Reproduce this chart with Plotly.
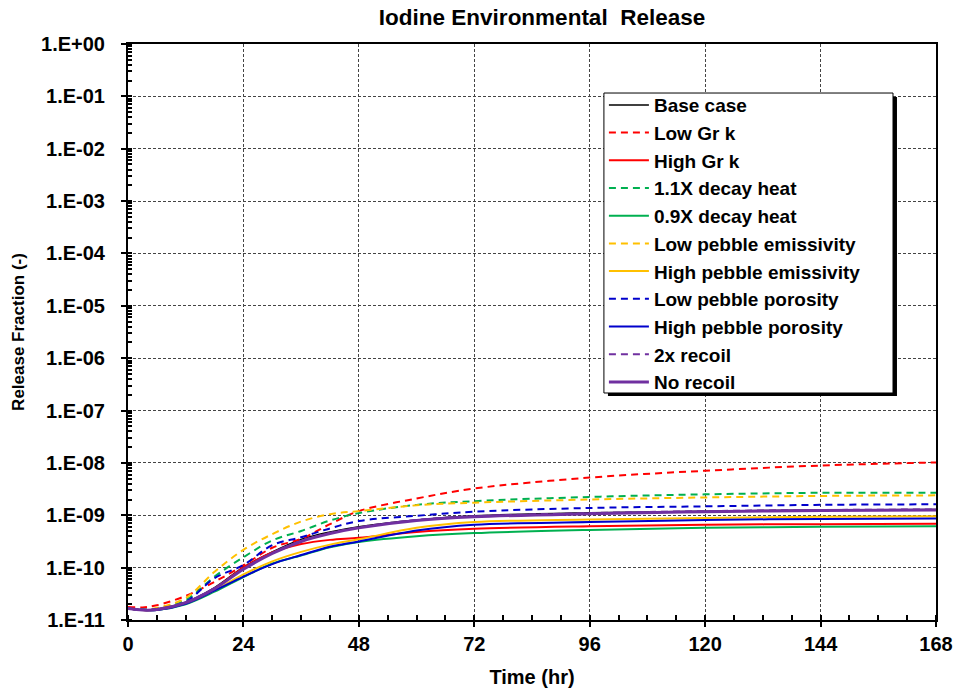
import plotly.graph_objects as go

# time (hr) and release fraction
hours = [0, 3, 6, 12, 18, 24, 30, 36, 42, 48, 60, 72, 96, 120, 144, 168]

base_case = [1.66e-11, 1.55e-11, 1.62e-11, 2.19e-11, 4.17e-11, 1.02e-10, 2.00e-10, 3.47e-10,
             4.79e-10, 6.03e-10, 8.13e-10, 9.77e-10, 1.12e-09, 1.20e-09, 1.26e-09, 1.29e-09]
low_gr_k = [1.78e-11, 1.74e-11, 1.91e-11, 2.88e-11, 5.37e-11, 1.10e-10, 2.40e-10, 3.55e-10,
            6.76e-10, 1.20e-09, 2.09e-09, 3.24e-09, 5.25e-09, 7.08e-09, 8.91e-09, 1.02e-08]
high_gr_k = [1.66e-11, 1.55e-11, 1.58e-11, 2.14e-11, 3.98e-11, 1.00e-10, 1.95e-10, 2.82e-10,
             3.39e-10, 3.72e-10, 4.79e-10, 5.50e-10, 6.17e-10, 6.61e-10, 6.76e-10, 6.92e-10]
decay_heat_11 = [1.66e-11, 1.58e-11, 1.66e-11, 2.40e-11, 6.76e-11, 1.58e-10, 3.31e-10, 5.01e-10,
                 7.94e-10, 1.10e-09, 1.58e-09, 1.86e-09, 2.24e-09, 2.51e-09, 2.69e-09, 2.69e-09]
decay_heat_09 = [1.66e-11, 1.55e-11, 1.55e-11, 2.00e-11, 3.47e-11, 6.61e-11, 1.20e-10, 1.70e-10,
                 2.45e-10, 3.09e-10, 3.98e-10, 4.57e-10, 5.25e-10, 5.75e-10, 6.03e-10, 6.17e-10]
low_emissivity = [1.66e-11, 1.58e-11, 1.70e-11, 2.63e-11, 8.32e-11, 2.19e-10, 4.37e-10, 7.59e-10,
                  1.05e-09, 1.20e-09, 1.55e-09, 1.74e-09, 2.00e-09, 2.19e-09, 2.34e-09, 2.40e-09]
high_emissivity = [1.66e-11, 1.55e-11, 1.58e-11, 2.09e-11, 3.72e-11, 7.41e-11, 1.32e-10, 2.00e-10,
                   2.75e-10, 3.47e-10, 5.75e-10, 7.41e-10, 8.32e-10, 8.91e-10, 9.33e-10, 9.55e-10]
low_porosity = [1.66e-11, 1.58e-11, 1.62e-11, 2.24e-11, 6.31e-11, 1.12e-10, 2.69e-10, 3.80e-10,
                5.62e-10, 7.76e-10, 9.77e-10, 1.17e-09, 1.38e-09, 1.48e-09, 1.58e-09, 1.62e-09]
high_porosity = [1.66e-11, 1.55e-11, 1.55e-11, 2.04e-11, 3.63e-11, 6.76e-11, 1.17e-10, 1.74e-10,
                 2.51e-10, 3.16e-10, 5.13e-10, 6.61e-10, 7.41e-10, 8.13e-10, 8.51e-10, 8.71e-10]
recoil_2x = [1.66e-11, 1.55e-11, 1.58e-11, 2.19e-11, 4.07e-11, 9.55e-11, 1.91e-10, 3.24e-10,
             4.57e-10, 5.89e-10, 8.13e-10, 9.55e-10, 1.10e-09, 1.20e-09, 1.26e-09, 1.29e-09]
no_recoil = [1.66e-11, 1.55e-11, 1.58e-11, 2.14e-11, 3.98e-11, 9.33e-11, 1.86e-10, 3.16e-10,
             4.47e-10, 5.75e-10, 7.94e-10, 9.33e-10, 1.07e-09, 1.17e-09, 1.23e-09, 1.26e-09]

y_tickvals = [1e-11, 1e-10, 1e-9, 1e-8, 1e-7, 1e-6, 1e-5, 1e-4, 1e-3, 1e-2, 1e-1, 1]
y_ticktext = ['1.E-11', '1.E-10', '1.E-09', '1.E-08', '1.E-07', '1.E-06',
              '1.E-05', '1.E-04', '1.E-03', '1.E-02', '1.E-01', '1.E+00']

FONT = 'Arial, Liberation Sans, sans-serif'
DASH = '7px,5px'

series = [
    ('Base case', base_case, 'black', 'solid', 1.5),
    ('Low Gr k', low_gr_k, '#FF0000', DASH, 2),
    ('High Gr k', high_gr_k, '#FF0000', 'solid', 2),
    ('1.1X decay heat', decay_heat_11, '#00B050', DASH, 2),
    ('0.9X decay heat', decay_heat_09, '#00B050', 'solid', 2),
    ('Low pebble emissivity', low_emissivity, '#FFC000', DASH, 2),
    ('High pebble emissivity', high_emissivity, '#FFC000', 'solid', 2),
    ('Low pebble porosity', low_porosity, '#0000CC', DASH, 2),
    ('High pebble porosity', high_porosity, '#0000CC', 'solid', 2),
    ('2x recoil', recoil_2x, '#7030A0', DASH, 2),
    ('No recoil', no_recoil, '#7030A0', 'solid', 3),
]

fig = go.Figure()
for idx, (name, vals, color, dash, width) in enumerate(series):
    fig.add_trace(go.Scatter(x=hours, y=vals, name=name, mode='lines',
                             legendgroup=str(idx),
                             line=dict(color=color, dash=dash, width=width, shape='spline')))

# legend frame with drop shadow (legend itself is transparent on top)
fig.add_shape(type='rect', xref='paper', yref='paper',
              x0=0.594, x1=0.9517, y0=0.389, y1=0.908,
              fillcolor='black', line_width=0, layer='above')
fig.add_shape(type='rect', xref='paper', yref='paper',
              x0=0.589, x1=0.9468, y0=0.3941, y1=0.9149,
              fillcolor='white', line=dict(color='black', width=1), layer='above')

fig.update_layout(
    width=956, height=689,
    margin=dict(l=128, r=20, t=44, b=69),
    paper_bgcolor='white', plot_bgcolor='white',
    font=dict(family=FONT, size=20, color='black'),
    title=dict(text='<b>Iodine Environmental\u00a0 Release</b>', x=0.567, xanchor='center',
               y=0.975, yanchor='middle', font=dict(size=22.5)),
    showlegend=True,
    legend=dict(x=0.589, y=0.927, xanchor='left', yanchor='top',
                bgcolor='rgba(0,0,0,0)', borderwidth=0,
                font=dict(family=FONT, size=19, color='black', weight='bold'),
                itemwidth=40, tracegroupgap=0, traceorder='grouped'),
)

fig.update_xaxes(
    range=[0, 168], dtick=24, tick0=0, automargin=False, ticklabeloverflow='allow',
    title=dict(text='<b>Time (hr)</b>', font=dict(size=20), standoff=16),
    tickfont=dict(size=20, weight='bold'),
    showline=True, linecolor='black', linewidth=2, mirror=True,
    ticks='outside', ticklen=5, tickwidth=1.5, tickcolor='black',
    showgrid=True, gridcolor='#444444', gridwidth=1, griddash='3px,2px',
    minor=dict(ticks='inside', dtick=6, ticklen=5, tickcolor='black', showgrid=False),
    zeroline=False,
)

fig.update_yaxes(
    type='log', range=[-11, 0], automargin=False,
    tickvals=y_tickvals, ticktext=y_ticktext, ticklabelstandoff=12,
    title=dict(text='<b>Release Fraction (-)</b>', font=dict(size=17), standoff=12),
    tickfont=dict(size=20, weight='bold'),
    showline=True, linecolor='black', linewidth=2, mirror=True,
    ticks='outside', ticklen=5, tickwidth=1.5, tickcolor='black',
    showgrid=True, gridcolor='#444444', gridwidth=1, griddash='3px,2px',
    minor=dict(ticks='inside', dtick='D1', ticklen=4, tickcolor='black', showgrid=False),
    zeroline=False,
)

fig.write_html('out.html', config={'displayModeBar': False},
               post_script="document.body.style.margin='0';document.body.style.overflow='hidden';")
